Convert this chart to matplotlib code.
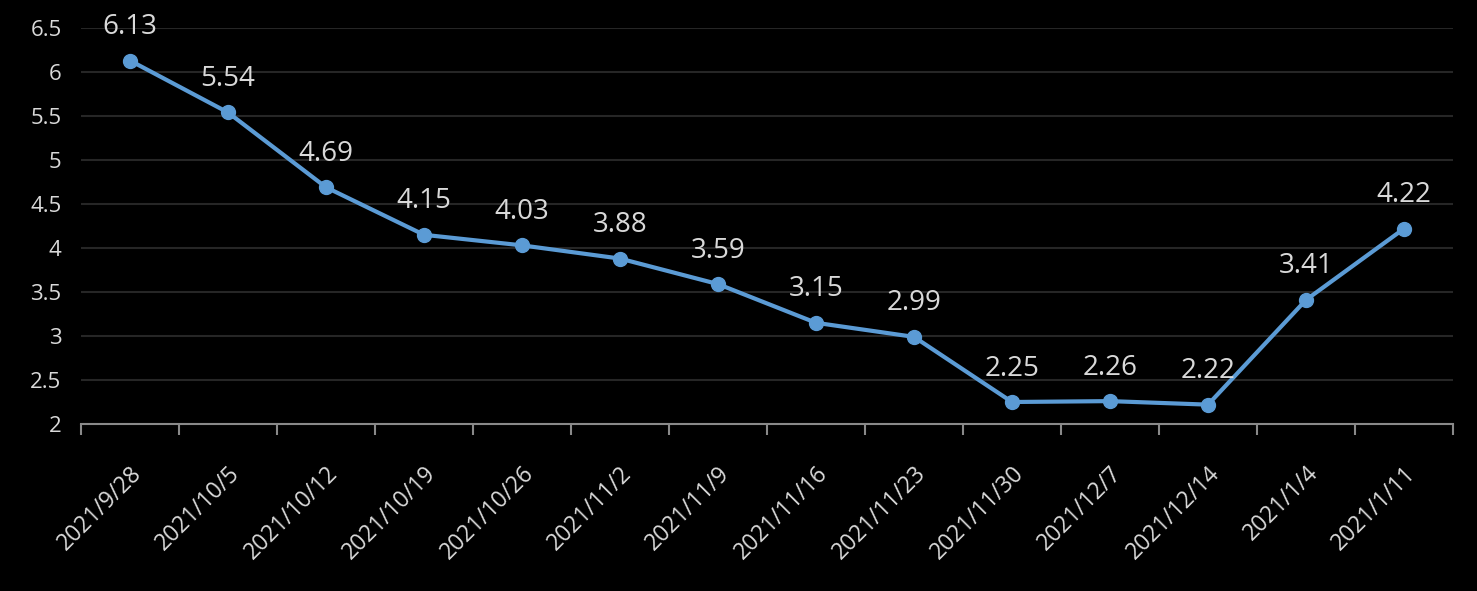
import matplotlib
matplotlib.use("Agg")
import matplotlib.pyplot as plt

dates = ["2021/9/28", "2021/10/5", "2021/10/12", "2021/10/19", "2021/10/26",
         "2021/11/2", "2021/11/9", "2021/11/16", "2021/11/23", "2021/11/30",
         "2021/12/7", "2021/12/14", "2021/1/4", "2021/1/11"]
values = [6.13, 5.54, 4.69, 4.15, 4.03, 3.88, 3.59, 3.15, 2.99, 2.25,
          2.26, 2.22, 3.41, 4.22]
yticks = [2, 2.5, 3, 3.5, 4, 4.5, 5, 5.5, 6, 6.5]

plt.rcParams['font.family'] = ['Open Sans', 'DejaVu Sans']
text_color = '#d9d9d9'
line_color = '#5b9bd5'

fig = plt.figure(figsize=(14.77, 5.91), dpi=100, facecolor='black')
ax = fig.add_axes([81 / 1477, 1 - 424 / 591, 1372 / 1477, 396 / 591])
ax.set_facecolor('black')

x = list(range(len(dates)))
ax.plot(x, values, color=line_color, lw=3, marker='o', ms=10, zorder=3)
for xi, v in zip(x, values):
    ax.annotate(f"{v:.2f}", (xi, v), xytext=(0, 14), textcoords='offset points',
                ha='center', va='bottom', color=text_color, fontsize=20)

ax.set_xlim(-0.5, len(dates) - 0.5)
ax.set_ylim(2, 6.5)
ax.set_yticks(yticks)
ax.set_yticklabels([f"{t:g}" for t in yticks])
ax.grid(axis='y', color='#262626', lw=1.5, zorder=0)
ax.set_axisbelow(True)

ax.set_xticks(x)
ax.set_xticklabels(dates, rotation=45, ha='right', rotation_mode='anchor')
ax.set_xticks([i - 0.5 for i in range(len(dates) + 1)], minor=True)
ax.tick_params(axis='x', which='major', length=0, pad=27, colors=text_color, labelsize=16.5)
ax.tick_params(axis='x', which='minor', length=8, width=1.5, color='#898989', direction='out')
ax.tick_params(axis='y', length=0, pad=14, colors=text_color, labelsize=16)

for side in ['top', 'right', 'left']:
    ax.spines[side].set_visible(False)
ax.spines['bottom'].set_color('#898989')
ax.spines['bottom'].set_linewidth(1.5)

fig.savefig('out.png', dpi=100, facecolor='black')
